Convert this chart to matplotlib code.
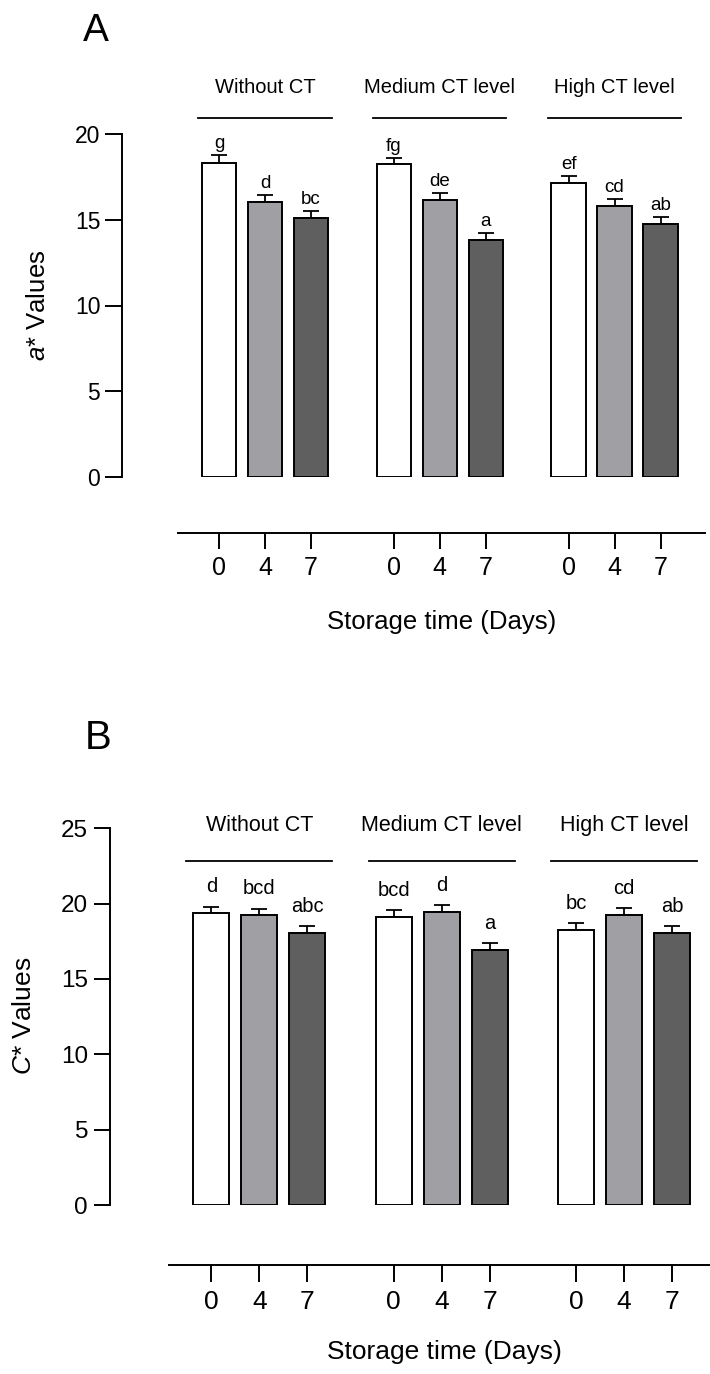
import numpy as np
import matplotlib
matplotlib.use("Agg")
import matplotlib.pyplot as plt

plt.rcParams['font.family'] = 'Liberation Sans'
plt.rcParams['mathtext.fontset'] = 'custom'
plt.rcParams['mathtext.rm'] = 'Liberation Sans'
plt.rcParams['mathtext.it'] = 'Liberation Sans:italic'

# data
groups = ['Without CT', 'Medium CT level', 'High CT level']
days = ['0', '4', '7']

a_mean = [[18.33, 16.03, 15.12], [18.23, 16.15, 13.82], [17.16, 15.80, 14.77]]
a_err = [[0.42, 0.39, 0.41], [0.38, 0.41, 0.41], [0.41, 0.39, 0.41]]
a_letters = [['g', 'd', 'bc'], ['fg', 'de', 'a'], ['ef', 'cd', 'ab']]

c_mean = [[19.40, 19.22, 18.07], [19.13, 19.46, 16.92], [18.25, 19.24, 18.07]]
c_err = [[0.40, 0.42, 0.44], [0.44, 0.44, 0.44], [0.44, 0.44, 0.44]]
c_letters = [['d', 'bcd', 'abc'], ['bcd', 'd', 'a'], ['bc', 'cd', 'ab']]

bar_colors = ['white', '#a09fa4', '#5f5f5f']

W, H = 710, 1374
fig = plt.figure(figsize=(W / 100, H / 100), dpi=100)


def px_axes(x0, y0, x1, y1):
    return fig.add_axes([x0 / W, 1 - y1 / H, (x1 - x0) / W, (y1 - y0) / H])


def panel(means, errs, letters, ylab, p):
    unit = p['unit']
    gap = 3.8
    ax = px_axes(p['yx'], p['top'], W, p['zero'])
    x0 = -(p['first'] - p['yx']) / unit
    ax.set_xlim(x0, x0 + (W - p['yx']) / unit)
    ax.set_ylim(0, p['ymax'])
    ax.patch.set_visible(False)
    tr = ax.get_xaxis_transform()
    ticks = []
    for g in range(3):
        xs = g * gap + np.arange(3)
        ticks += list(xs)
        ax.errorbar(xs, means[g], yerr=[np.zeros(3), errs[g]], fmt='none',
                    ecolor='black', elinewidth=1.3, capsize=5.5, capthick=1.3, zorder=1)
        ax.bar(xs, means[g], width=0.75, color=bar_colors, edgecolor='black',
               linewidth=1.4, zorder=2)
        for xi, m, e, t in zip(xs, means[g], errs[g], letters[g]):
            ax.annotate(t, (xi, m + e), xytext=(0, p['let_off']), textcoords='offset points',
                        ha='center', va='baseline', fontsize=p['let_fs'])
        c = g * gap + 1
        ax.plot([c - p['half'], c + p['half']], [p['line_y']] * 2, transform=tr,
                color='black', lw=1.3, clip_on=False)
        ax.text(c, p['title_y'], groups[g], transform=tr, ha='center', va='center',
                fontsize=p['title_fs'])
    for s in ['top', 'right', 'bottom']:
        ax.spines[s].set_visible(False)
    ax.spines['left'].set_linewidth(1.4)
    ax.set_xticks([])
    ax.set_yticks(p['yticks'])
    ax.tick_params(axis='y', length=p['ytl'], width=1.4, labelsize=p['ytick_fs'], pad=p['ypad'])

    # separate category axis under the bars
    bx = px_axes(p['bx0'], p['by'] - 10, p['bx1'], p['by'])
    bx.set_xlim((p['bx0'] - p['first']) / unit, (p['bx1'] - p['first']) / unit)
    for s in ['top', 'right', 'left']:
        bx.spines[s].set_visible(False)
    bx.spines['bottom'].set_linewidth(1.4)
    bx.patch.set_visible(False)
    bx.set_yticks([])
    bx.set_xticks(ticks)
    bx.set_xticklabels(days * 3)
    bx.tick_params(axis='x', length=p['xtl'], width=1.4, labelsize=p['xtick_fs'], pad=p['xpad'])

    fig.text(p['xl_x'] / W, 1 - p['xl_y'] / H, 'Storage time (Days)', ha='center', va='center',
             fontsize=p['lab_fs'])
    fig.text(p['yl_x'] / W, 1 - p['yl_y'] / H, ylab, ha='center', va='center', rotation=90,
             fontsize=p['lab_fs'])
    fig.text(p['tag_x'] / W, 1 - p['tag_y'] / H, p['tag'], ha='center', va='center',
             fontsize=p['tag_fs'])


panel(a_mean, a_err, a_letters, '$a$* Values',
      dict(yx=122, top=134, zero=477, first=219, unit=46, ymax=20, yticks=[0, 5, 10, 15, 20],
           let_off=5, let_fs=13.5, half=1.45, line_y=1.047, title_y=1.137, title_fs=14.5,
           ytl=12, ypad=3.6, ytick_fs=16.5, bx0=178, bx1=705, by=533, xtl=11.5, xtick_fs=18,
           xpad=5, xl_x=441.7, xl_y=622, yl_x=38, yl_y=305, lab_fs=18.5,
           tag='A', tag_x=95.5, tag_y=31, tag_fs=28))

panel(c_mean, c_err, c_letters, '$C$* Values',
      dict(yx=110, top=828.3, zero=1205, first=211.3, unit=48, ymax=25,
           yticks=[0, 5, 10, 15, 20, 25],
           let_off=10.5, let_fs=14.5, half=1.52, line_y=0.912, title_y=1.008, title_fs=15.5,
           ytl=11.5, ypad=4.3, ytick_fs=17.5, bx0=168.6, bx1=710, by=1264.6, xtl=12,
           xtick_fs=19, xpad=6.5, xl_x=444, xl_y=1352, yl_x=24, yl_y=1016, lab_fs=19,
           tag='B', tag_x=98, tag_y=738, tag_fs=29))

fig.savefig('out.png', dpi=100)
